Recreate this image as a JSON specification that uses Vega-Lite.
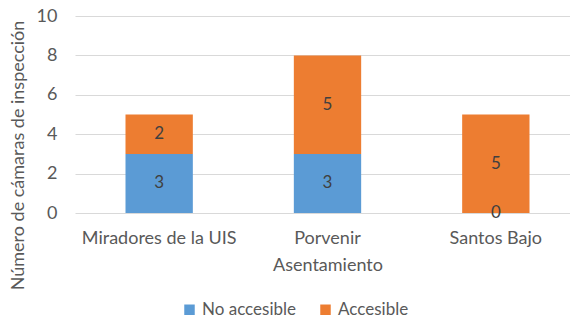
{
  "$schema": "https://vega.github.io/schema/vega-lite/v6.json",
  "autosize": "none",
  "width": 505,
  "height": 197,
  "padding": {"left": 75, "top": 16, "right": 0, "bottom": 106},
  "background": "white",
  "config": {
    "font": "Lato",
    "view": {"stroke": null},
    "axisY": {
      "title": "Número de cámaras de inspección",
      "values": [0, 2, 4, 6, 8, 10],
      "labelOverlap": false,
      "labelBound": false,
      "labelFontSize": 18,
      "labelColor": "#595959",
      "labelPadding": 18,
      "titleFontSize": 18,
      "titleFontWeight": "normal",
      "titleColor": "#595959",
      "titlePadding": 9,
      "titleY": 139,
      "gridColor": "#d9d9d9",
      "gridWidth": 1,
      "domain": false,
      "ticks": false
    }
  },
  "data": {
    "values": [
      {"Asentamiento": "Miradores de la UIS", "Tipo": "No accesible", "Cantidad": 3},
      {"Asentamiento": "Miradores de la UIS", "Tipo": "Accesible", "Cantidad": 2},
      {"Asentamiento": "Porvenir", "Tipo": "No accesible", "Cantidad": 3},
      {"Asentamiento": "Porvenir", "Tipo": "Accesible", "Cantidad": 5},
      {"Asentamiento": "Santos Bajo", "Tipo": "No accesible", "Cantidad": 0},
      {"Asentamiento": "Santos Bajo", "Tipo": "Accesible", "Cantidad": 5}
    ]
  },
  "transform": [
    {"stack": "Cantidad", "groupby": ["Asentamiento"], "sort": [{"field": "Tipo", "order": "descending"}], "as": ["y0", "y1"]}
  ],
  "encoding": {
    "x": {
      "field": "Asentamiento",
      "type": "nominal",
      "sort": ["Miradores de la UIS", "Porvenir", "Santos Bajo"],
      "scale": {"paddingInner": 0.6, "paddingOuter": 0.3},
      "axis": {
        "title": "Asentamiento",
        "labelAngle": 0,
        "labelFontSize": 18,
        "labelColor": "#595959",
        "labelPadding": 16,
        "titleFontSize": 18,
        "titleFontWeight": "normal",
        "titleColor": "#595959",
        "titlePadding": 9,
        "domain": false,
        "ticks": false
      }
    }
  },
  "layer": [
    {
      "mark": {"type": "bar"},
      "encoding": {
        "y": {
          "field": "y0",
          "type": "quantitative",
          "scale": {"domain": [0, 10]},
          "title": "Número de cámaras de inspección"
        },
        "y2": {"field": "y1"},
        "color": {
          "field": "Tipo",
          "type": "nominal",
          "scale": {"domain": ["No accesible", "Accesible"], "range": ["#5B9BD5", "#ED7D31"]},
          "legend": {
            "title": null,
            "orient": "none",
            "direction": "horizontal",
            "legendX": 106,
            "legendY": 285,
            "symbolType": "square",
            "symbolSize": 110,
            "symbolStrokeWidth": 0,
            "labelFontSize": 17,
            "labelColor": "#595959",
            "columnPadding": 20,
            "labelOffset": 4
          }
        }
      }
    },
    {
      "transform": [
        {"fold": ["y0", "y1"], "as": ["pos", "edge"]},
        {"aggregate": [{"op": "mean", "field": "edge", "as": "mid"}], "groupby": ["Asentamiento", "Tipo", "Cantidad"]}
      ],
      "mark": {"type": "text", "fontSize": 17, "color": "#404040", "baseline": "middle"},
      "encoding": {
        "y": {"field": "mid", "type": "quantitative", "title": "Número de cámaras de inspección"},
        "text": {"field": "Cantidad", "type": "quantitative"}
      }
    }
  ]
}
